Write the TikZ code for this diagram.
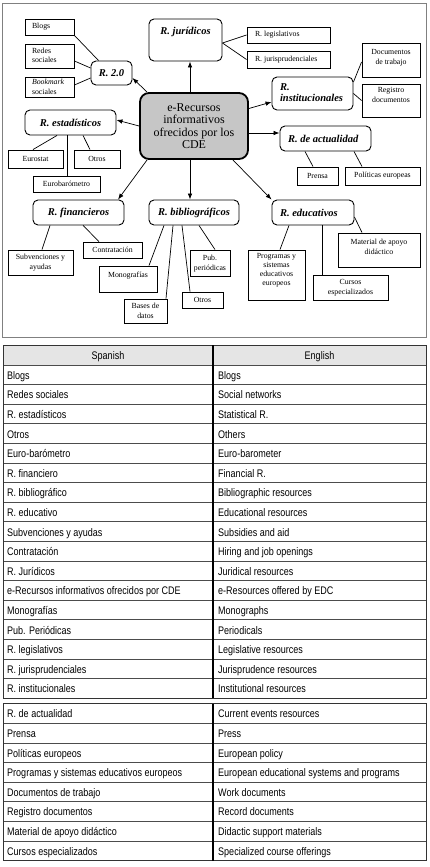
\documentclass[tikz,border=0pt]{standalone}
\usepackage{fontspec}
\setmainfont{Liberation Serif}
\newfontfamily\tabfont[FakeStretch=0.82]{Liberation Sans}
\usetikzlibrary{arrows.meta,calc}
\newcommand\tcen[1]{\begin{tabular}[t]{@{}c@{}}#1\end{tabular}}
\newcommand\ccen[1]{\begin{tabular}{@{}c@{}}#1\end{tabular}}
\newcommand\clin[1]{\begin{tabular}{@{}l@{}}#1\end{tabular}}
\newcommand\lbx[2]{\makebox[#1pt][l]{#2}}
\tikzset{
  sb/.style={draw, line width=0.9pt, inner sep=0pt, font=\fontsize{7.8}{10}\selectfont},
  cb/.style={draw, line width=0.9pt, rounded corners=5pt, inner sep=0pt, font=\fontsize{10.5}{11}\selectfont\bfseries\itshape},
  mainb/.style={draw, line width=1.8pt, rounded corners=9pt, fill=gray!45, inner sep=0pt, font=\fontsize{12}{12.3}\selectfont},
  ln/.style={line width=0.7pt},
  arr/.style={line width=0.7pt, -{Latex[length=6pt,width=4.5pt]}},
  sz/.style 2 args={minimum width=#1pt, minimum height=#2pt},
  tt/.style={inner sep=0pt, anchor=base west, font=\tabfont\fontsize{11}{13}\selectfont},
  th/.style={inner sep=0pt, anchor=base, font=\tabfont\fontsize{11}{13}\selectfont},
  tline/.style={draw=black!70, line width=0.7pt},
}
\begin{document}
\begin{tikzpicture}[x=1pt,y=-1pt]
\useasboundingbox (0,0) rectangle (430,867);
\fill[white] (0,0) rectangle (430,867);
% frame of the diagram
\draw[black!50, line width=0.8pt] (2,3) rectangle (426,337);

% nodes
\node[sb, sz={49}{16}] (blogs) at (49.5,27) {\lbx{35}{Blogs}};
\node[sb, sz={49}{24}] (redes) at (49.5,56) {\lbx{35}{\clin{Redes\\sociales}}};
\node[sb, sz={49}{20}] (bookm) at (49.5,87) {\lbx{35}{\clin{\textit{Bookmark}\\sociales}}};
\node[cb, sz={41}{24}] (r20) at (111.5,73) {R. 2.0};
\node[cb, sz={73}{42}, text height=15.3pt, text depth=26.7pt] (rjur) at (185.5,40) {R. jurídicos};
\node[sb, sz={83}{16}] (rleg) at (288.5,35) {\lbx{67}{R. legislativos}};
\node[sb, sz={83}{17}] (rjuris) at (288.5,59.5) {\lbx{67}{R. jurisprudenciales}};
\node[cb, sz={81}{33}] (rinst) at (312.5,93.5) {\lbx{65}{\clin{R.\\institucionales}}};
\node[sb, sz={58}{34}, text height=11.7pt, text depth=22.3pt] (docs) at (391,60) {\tcen{Documentos\\de trabajo}};
\node[sb, sz={58}{33}, text height=8.7pt, text depth=24.3pt] (regis) at (391,100.5) {\tcen{Registro\\documentos}};
\node[mainb, sz={108}{66}, text height=18.5pt, text depth=47.5pt] (central) at (194,126) {\tcen{e-Recursos\\informativos\\ofrecidos por los\\CDE}};
\node[cb, sz={91}{25}] (rest) at (70.5,122.5) {R. estadísticos};
\node[sb, sz={55}{18}] (eurostat) at (35.5,159) {Eurostat};
\node[sb, sz={46}{18}] (otros1) at (97,159) {Otros};
\node[sb, sz={67}{16}] (eurob) at (66.5,184) {Eurobarómetro};
\node[cb, sz={91}{25}] (ract) at (325.5,138.5) {\lbx{75}{R. de actualidad}};
\node[sb, sz={41}{18}] (prensa) at (317.5,176) {Prensa};
\node[sb, sz={75}{18}] (polit) at (382.5,176) {Políticas europeas};
\node[cb, sz={91}{25}] (rfin) at (78.5,212.5) {R. financieros};
\node[sb, sz={65}{25}] (subv) at (40.5,262.5) {\ccen{Subvenciones y\\ayudas}};
\node[sb, sz={59}{16}] (contr) at (112.5,250) {Contratación};
\node[cb, sz={90}{25}] (rbib) at (194,212.5) {R. bibliográficos};
\node[sb, sz={58}{26}, text height=11pt, text depth=15pt] (mono) at (128,279) {Monografías};
\node[sb, sz={43}{24}] (bases) at (145.5,311) {\ccen{Bases de\\datos}};
\node[sb, sz={41}{16}] (otros2) at (202.5,300) {Otros};
\node[sb, sz={40}{26}] (pub) at (210,263) {\ccen{Pub.\\periódicas}};
\node[cb, sz={82}{25}] (redu) at (313,212.5) {\lbx{66}{R. educativos}};
\node[sb, sz={57}{50}, text height=8.7pt, text depth=41.3pt, font=\fontsize{7.8}{9}\selectfont] (prog) at (276.5,275) {\tcen{Programas y\\sistemas\\educativos\\europeos}};
\node[sb, sz={75}{25}] (cursos) at (350.5,287.5) {\ccen{Cursos\\especializados}};
\node[sb, sz={82}{34}, text height=11.4pt, text depth=22.6pt] (mat) at (379,250) {\tcen{Material de apoyo\\didáctico}};

% connectors
\draw[ln] (blogs.south east) -- ([xshift=8pt]r20.north west);
\draw[ln] ([yshift=-5pt]redes.east) -- ([yshift=5pt]r20.west);
\draw[ln] ([yshift=2pt]bookm.east) -- ([yshift=-5pt]r20.west);
\draw[arr] ([xshift=8pt]central.north west) -- ([yshift=-5pt]r20.east);
\draw[arr] ([xshift=-4pt]central.north) -- ([xshift=-4pt]central.north |- rjur.south);
\draw[ln] ([yshift=-3pt]rjur.east) -- (rleg.west);
\draw[ln] ([yshift=-3pt]rjur.east) -- (rjuris.west);
\draw[arr] ([yshift=17.5pt]central.east) -- ([yshift=-8.5pt]rinst.west);
\draw[ln] ([yshift=11.5pt]rinst.east) -- ([yshift=-2pt]docs.west);
\draw[ln] (rinst.east) -- (regis.west);
\draw[arr] ([yshift=-7pt]central.east) -- ([yshift=5.5pt]ract.west);
\draw[ln] ([xshift=-20.5pt]ract.south) -- ([xshift=-4.5pt]prensa.north);
\draw[ln] ([xshift=28.5pt]ract.south) -- ([xshift=-20.5pt]polit.north);
\draw[arr] (central.west) -- ([yshift=2.5pt]rest.east);
\draw[ln] ([xshift=-13.5pt]rest.south) -- ([xshift=-2.5pt]eurostat.north);
\draw[ln] ([xshift=-3.5pt]rest.south) -- ([xshift=-3.5pt]rest.south |- eurob.north);
\draw[ln] ([xshift=12.5pt]rest.south) -- ([xshift=-7pt]otros1.north);
\draw[arr] ([xshift=8pt]central.south west) -- ([xshift=39.5pt]rfin.north);
\draw[arr] ([xshift=-4pt]central.south) -- ([xshift=-4pt]central.south |- rbib.north);
\draw[arr] ([xshift=-16pt]central.south east) -- (redu.north west);
\draw[ln] ([xshift=-28.5pt]rfin.south) -- ([xshift=1.5pt]subv.north);
\draw[ln] ([xshift=4.5pt]rfin.south) -- ([xshift=-13.5pt]contr.north);
\draw[ln] ([xshift=-30pt]rbib.south) -- ([xshift=21pt]mono.north);
\draw[ln] ([xshift=-21pt]rbib.south) -- ([xshift=20.5pt]bases.north);
\draw[ln] ([xshift=-12pt]rbib.south) -- ([xshift=-12.5pt]otros2.north);
\draw[ln] ([xshift=5pt]rbib.south) -- ([xshift=5pt]pub.north);
\draw[ln] ([xshift=-24pt]redu.south) -- ([xshift=3.5pt]prog.north);
\draw[ln] ([xshift=9pt]redu.south) -- ([xshift=9pt]redu.south |- cursos.north);
\draw[ln] ([yshift=-4.5pt]redu.east) -- ([xshift=-17pt]mat.north);

% table
\fill[gray!20] (3,345) rectangle (426,365);
\foreach \i in {0,...,16} \draw[tline] (3,{365+19.6*\i}) -- (426,{365+19.6*\i});
\foreach \j in {1,...,7} \draw[tline] (3,{703.7+19.6*\j}) -- (426,{703.7+19.6*\j});
\draw[draw=black!80, line width=0.9pt] (3,345) rectangle (426,698.2);
\draw[draw=black!80, line width=0.9pt] (3,703.7) rectangle (426,860.5);
\draw[line width=1.6pt] (213,345) -- (213,698.2);
\draw[line width=1.6pt] (213,703.7) -- (213,860.5);
\node[th] (hS) at (108,359.5) {Spanish};
\node[th] (hE) at (319.5,359.5) {English};
\foreach \s/\e [count=\i from 0] in {Blogs/Blogs, Redes sociales/Social networks, R. estadísticos/Statistical R., Otros/Others, Euro-barómetro/Euro-barometer, R. financiero/Financial R., R. bibliográfico/Bibliographic resources, R. educativo/Educational resources, Subvenciones y ayudas/Subsidies and aid, Contratación/Hiring and job openings, R. Jurídicos/Juridical resources, e-Recursos informativos ofrecidos por CDE/e-Resources offered by EDC, Monografías/Monographs, Pub. Periódicas/Periodicals, R. legislativos/Legislative resources, R. jurisprudenciales/Jurisprudence resources, R. institucionales/Institutional resources} {
  \node[tt] (s\i) at (7,{365+19.6*\i+14.2}) {\s};
  \node[tt] (e\i) at (218,{365+19.6*\i+14.2}) {\e};
}
\foreach \s/\e [count=\i from 0] in {R. de actualidad/Current events resources, Prensa/Press, Políticas europeos/European policy, Programas y sistemas educativos europeos/European educational systems and programs, Documentos de trabajo/Work documents, Registro documentos/Record documents, Material de apoyo didáctico/Didactic support materials, Cursos especializados/Specialized course offerings} {
  \node[tt] (t\i) at (7,{703.7+19.6*\i+14.2}) {\s};
  \node[tt] (f\i) at (218,{703.7+19.6*\i+14.2}) {\e};
}
\end{tikzpicture}
\end{document}
